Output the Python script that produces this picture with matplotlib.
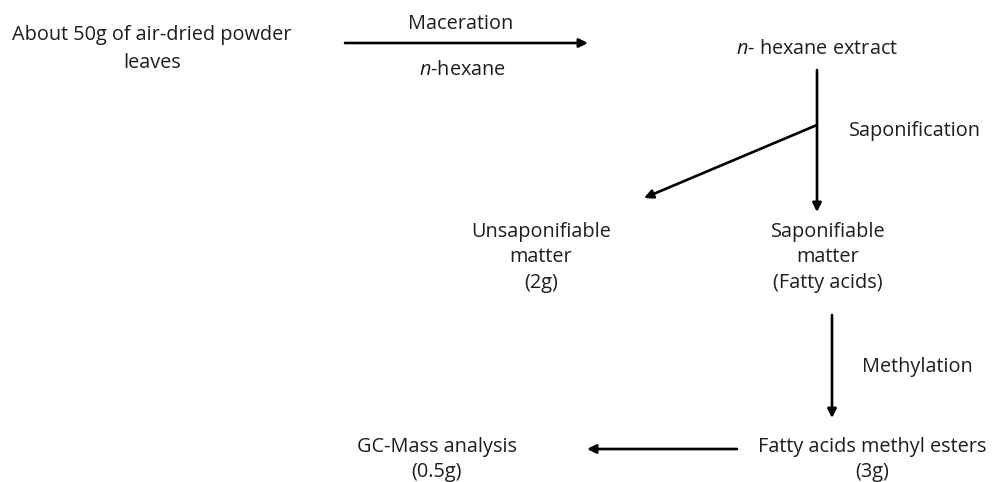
import matplotlib.pyplot as plt

# 흐름도 텍스트 (줄 단위)
node_lines = [
    ['About 50g of air-dried powder', 'leaves'],
    [r'$n$- hexane extract'],
    ['Unsaponifiable', 'matter', '(2g)'],
    ['Saponifiable', 'matter', '(Fatty acids)'],
    ['Fatty acids methyl esters', '(3g)'],
    ['GC-Mass analysis', '(0.5g)'],
]
step_labels = ['Maceration', r'$n$-hexane', 'Saponification', 'Methylation']

# 배치 (픽셀 좌표, 위가 0) : (중심 x, 첫 줄 baseline y, 줄간격)
node_pos = [(152, 40, 28), (817, 54, 26), (541, 237, 25.5), (828, 237, 25.5),
            (872, 452, 25), (437, 452, 25)]
step_pos = [(461, 29), (462, 75), (915, 136), (917, 372)]
arrows = [
    ((345, 43), (588, 43)),
    ((817, 70), (817, 212)),
    ((817, 125), (644, 198)),
    ((832, 315), (832, 418)),
    ((737, 449), (587, 449)),
]

plt.rcParams['font.family'] = ['Open Sans', 'DejaVu Sans']
plt.rcParams['mathtext.fontset'] = 'custom'
plt.rcParams['mathtext.it'] = 'Open Sans:italic'
plt.rcParams['mathtext.rm'] = 'Open Sans'

fig = plt.figure(figsize=(9.93, 4.82), dpi=100)
ax = fig.add_axes([0, 0, 1, 1])
ax.set_xlim(0, 993)
ax.set_ylim(482, 0)
ax.axis('off')

txt_color = '#1e1e1e'
fs = 14.3
for lines, (x, y, gap) in zip(node_lines, node_pos):
    for i, line in enumerate(lines):
        ax.text(x, y + i * gap, line, ha='center', va='baseline',
                fontsize=fs, color=txt_color)
for label, (x, y) in zip(step_labels, step_pos):
    ax.text(x, y, label, ha='center', va='baseline', fontsize=fs, color=txt_color)

# 화살표
for start, end in arrows:
    ax.annotate('', xy=end, xytext=start,
                arrowprops=dict(arrowstyle='-|>', color='black', lw=1.9,
                                mutation_scale=13, shrinkA=0, shrinkB=0))

fig.savefig('out.png', dpi=100)
